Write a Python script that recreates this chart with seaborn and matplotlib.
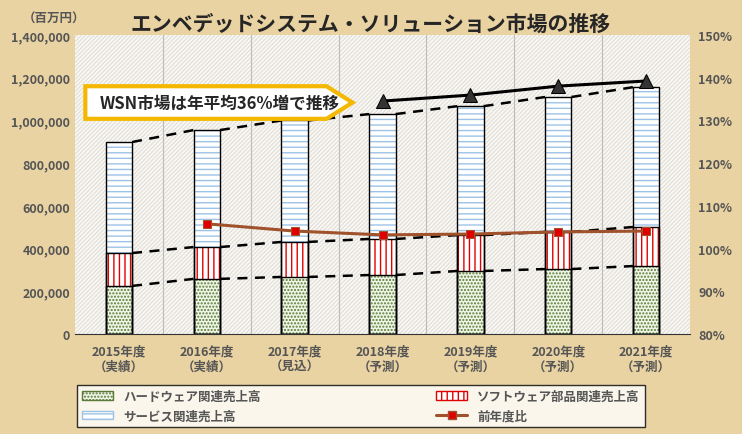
import numpy as np
import pandas as pd
import matplotlib
matplotlib.use('Agg')
import matplotlib.pyplot as plt
import seaborn as sns
from matplotlib.patches import Patch, FancyArrow
from matplotlib.lines import Line2D

years = ['2015年度\n（実績）', '2016年度\n（実績）', '2017年度\n（見込）', '2018年度\n（予測）',
         '2019年度\n（予測）', '2020年度\n（予測）', '2021年度\n（予測）']
hardware = [225000, 258000, 267000, 276000, 295000, 304000, 318000]
software = [154000, 149000, 164000, 169000, 168000, 174000, 183000]
service = [520000, 548000, 569000, 585000, 604000, 632000, 655000]
wsn_line = [None, None, None, 1091000, 1119000, 1161000, 1185000]
ratio = [None, 105.8, 104.1, 103.2, 103.4, 103.9, 104.1]

sns.set_style('white')
plt.rcParams['font.family'] = ['Noto Sans CJK JP', 'DejaVu Sans']
plt.rcParams['font.weight'] = 'bold'
plt.rcParams['hatch.linewidth'] = 1.0

df = pd.DataFrame({'year': years, 'hw': hardware, 'sw': software, 'sv': service})
df['hs'] = df['hw'] + df['sw']
df['total'] = df['hs'] + df['sv']

fig = plt.figure(figsize=(7.42, 4.35), dpi=100)
fig.patch.set_facecolor('#e9d3a3')
ax = fig.add_axes([0.101, 0.23, 0.829, 0.687])
ax.set_facecolor('#fbfaf6')
ax.add_patch(plt.Rectangle((0, 0), 1, 1, transform=ax.transAxes, fill=False,
                           hatch='////////', edgecolor='#e4e0da', lw=0, zorder=0))

w = 0.3
layers = [('total', 'white', '#9cc3e6', '---'), ('hs', 'white', '#e00000', '|||'),
          ('hw', '#eef5e4', '#5a7a3a', '.....')]
for col, fc, hc, hatch in layers:
    sns.barplot(data=df, x='year', y=col, ax=ax, color=fc, width=w, saturation=1,
                edgecolor=hc, linewidth=0, hatch=hatch, zorder=2)
    sns.barplot(data=df, x='year', y=col, ax=ax, fill=False, width=w,
                edgecolor='black', linewidth=1.0, zorder=3)

x = np.arange(len(years))
for col in ['hw', 'hs', 'total']:
    v = df[col].values
    for i in range(len(v) - 1):
        ax.plot([x[i] + w / 2, x[i + 1] - w / 2], [v[i], v[i + 1]], ls=(0, (4, 3)),
                color='black', lw=1.8, zorder=4)

wx = [i for i, v in enumerate(wsn_line) if v is not None]
wy = [v for v in wsn_line if v is not None]
sns.lineplot(x=wx, y=wy, ax=ax, color='black', lw=2.2, marker='^', markersize=10,
             markerfacecolor='#333333', markeredgecolor='black', zorder=6)

ax.set_ylim(0, 1400000)
ax.set_xlim(-0.5, 6.5)
ax.set_yticks(np.arange(0, 1400001, 200000))
ax.set_yticklabels([f'{v:,}' for v in range(0, 1400001, 200000)], fontsize=9, color='#555555')
ax.set_xlabel('')
ax.set_ylabel('')
ax.tick_params(axis='x', labelsize=9, colors='#555555', length=0, pad=8)
ax.tick_params(axis='y', length=0)
for xv in np.arange(0.5, 6.5, 1):
    ax.axvline(xv, color='#bbbbbb', lw=0.8, zorder=1)
for s in ['top', 'right', 'left']:
    ax.spines[s].set_visible(False)
ax.spines['bottom'].set_color('#333333')

ax2 = ax.twinx()
rx = [i for i, v in enumerate(ratio) if v is not None]
ry = [v for v in ratio if v is not None]
sns.lineplot(x=rx, y=ry, ax=ax2, color='#a0522d', lw=2.2, marker='s', markersize=6,
             markerfacecolor='#e00000', markeredgecolor='#a0522d', zorder=7)
ax2.set_ylim(80, 150)
ax2.set_yticks(np.arange(80, 151, 10))
ax2.set_yticklabels([f'{v}%' for v in range(80, 151, 10)], fontsize=9, color='#555555')
ax2.tick_params(axis='y', length=0, pad=6)
for s in ax2.spines.values():
    s.set_visible(False)

fig.text(0.5, 0.945, 'エンベデッドシステム・ソリューション市場の推移', ha='center', va='center',
         fontsize=15, fontweight='bold')
fig.text(0.03, 0.955, '（百万円）', fontsize=9, color='#555555', va='center')

# callout
fig.patches.append(FancyArrow(0.115, 0.762, 0.36, 0, width=0.075, head_width=0.075,
                              head_length=0.035, length_includes_head=True,
                              transform=fig.transFigure, facecolor='white',
                              edgecolor='#f5b800', lw=3, zorder=10))
fig.text(0.135, 0.762, 'WSN市場は年平均36%増で推移', fontsize=12, fontweight='bold',
         va='center', zorder=11)

handles = [Patch(facecolor='#eef5e4', edgecolor='#5a7a3a', hatch='.....'),
           Patch(facecolor='white', edgecolor='#9cc3e6', hatch='---'),
           Patch(facecolor='white', edgecolor='#e00000', hatch='|||'),
           Line2D([], [], color='#a0522d', lw=2.2, marker='s', markerfacecolor='#e00000',
                  markeredgecolor='#a0522d')]
labels = ['ハードウェア関連売上高', 'サービス関連売上高', 'ソフトウェア部品関連売上高', '前年度比']
leg = fig.legend(handles, labels, loc='lower left', bbox_to_anchor=(0.104, 0.015, 0.826, 0.115),
                 ncol=2, fontsize=9, frameon=True, fancybox=False, columnspacing=14,
                 edgecolor='black', handlelength=2.5, borderaxespad=0)
leg.get_frame().set_facecolor('white')
for t in leg.get_texts():
    t.set_color('#555555')

fig.savefig('out.png', dpi=100, facecolor=fig.get_facecolor())
